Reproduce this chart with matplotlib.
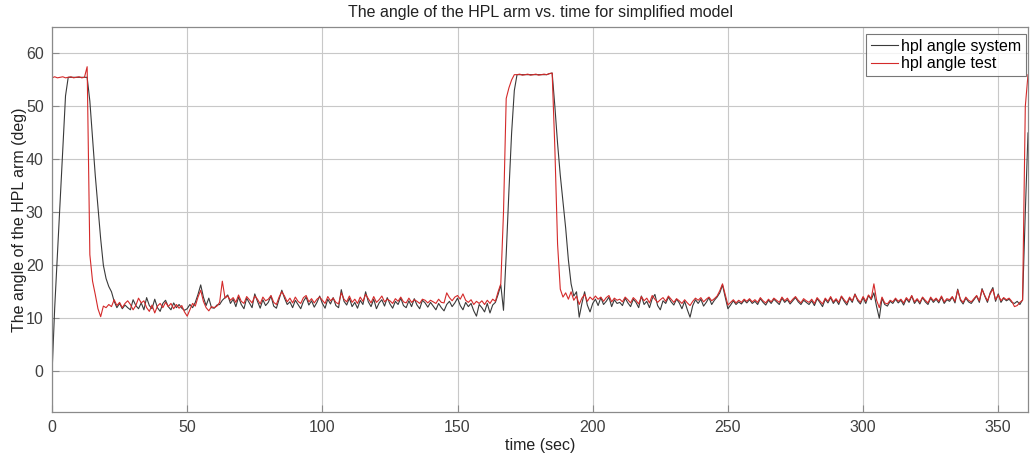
import numpy as np
import matplotlib
matplotlib.use("Agg")
import matplotlib.pyplot as plt

plt.rcParams['font.family'] = ['Liberation Sans', 'DejaVu Sans']

# sampling grid (seconds)
time_sec = np.arange(0, 362)

hpl_angle_system = [
    -0.5, 12, 22, 32, 42, 52, 55.5, 55.5, 55.5, 55.5,
    55.5, 55.5, 55.5, 55.5, 51, 44, 37, 31, 25, 20,
    17.5, 16, 15, 13.2, 12.0, 12.8, 11.8, 12.5, 12.0, 11.6,
    13.5, 12.4, 11.8, 12.9, 11.6, 13.9, 12.4, 11.8, 13.6, 12.0,
    11.3, 12.8, 13.4, 12.2, 11.6, 12.9, 12.0, 12.6, 11.9, 11.5,
    11.8, 12.6, 12.0, 13.0, 14.5, 16.3, 14.0, 12.4, 13.8, 12.0,
    11.9, 12.5, 12.6, 13.4, 13.9, 14.4, 12.8, 13.6, 12.2, 14.0,
    12.6, 11.8, 13.8, 12.9, 12.0, 14.6, 13.2, 11.9, 13.5, 12.4,
    13.0, 14.2, 12.3, 11.9, 13.6, 15.3, 13.8, 12.6, 13.1, 12.0,
    13.4, 12.6, 11.8, 13.2, 14.0, 12.5, 13.3, 12.1, 13.0, 14.2,
    12.8, 11.9, 13.6, 12.7, 13.9, 12.4, 12.0, 15.4, 13.2, 12.5,
    13.8, 12.2, 13.0, 11.9, 13.4, 12.6, 15.0, 13.1, 12.2, 13.6,
    11.8, 12.9, 13.5, 12.3, 13.9, 12.7, 11.9, 13.2, 12.6, 13.8,
    12.4, 12.0, 13.3, 12.2, 13.7, 12.5, 11.8, 13.4, 12.9, 12.1,
    13.0, 12.3, 11.6, 12.8, 12.0, 11.4, 12.6, 13.2, 12.2, 12.9,
    13.8, 12.4, 11.6, 13.0, 12.2, 12.8, 11.4, 10.4, 12.6, 12.0,
    11.2, 12.8, 11.0, 12.5, 13.0, 14.5, 16.3, 11.5, 22, 34,
    45, 53, 56, 56, 56, 56, 56, 56, 56, 56,
    56, 56, 56, 56, 56.2, 56.3, 50, 43, 37, 32,
    27, 21, 16.5, 14.2, 15.0, 10.2, 12.8, 15.0, 12.5, 11.2,
    12.8, 13.6, 12.4, 13.9, 12.6, 13.2, 14.0, 12.2, 13.5, 12.8,
    13.0, 12.4, 13.8, 12.9, 12.2, 13.6, 13.0, 12.0, 14.2, 12.6,
    13.2, 12.0, 13.7, 14.5, 12.4, 11.6, 13.3, 12.8, 14.0, 13.1,
    12.5, 13.6, 12.9, 11.8, 13.2, 11.6, 10.2, 12.4, 13.5, 12.8,
    13.6, 12.3, 13.0, 13.9, 12.6, 13.4, 14.0, 14.8, 16.3, 14.0,
    11.8, 12.5, 13.3, 12.6, 13.1, 12.7, 13.4, 12.9, 13.5, 12.8,
    13.2, 12.6, 13.7, 13.0, 12.5, 13.4, 12.8, 13.6, 13.1, 12.6,
    13.8, 13.0, 13.5, 12.7, 13.3, 13.9, 13.1, 12.6, 13.4, 13.0,
    12.6, 13.3, 12.4, 13.7, 13.0, 12.2, 13.6, 12.9, 13.9, 12.8,
    13.5, 12.6, 14.1, 13.2, 12.5, 13.8, 13.0, 14.6, 13.3, 12.7,
    13.9, 12.8, 14.3, 13.5, 14.8, 12.2, 10.0, 13.8, 12.6, 12.3,
    13.2, 12.8, 13.6, 12.9, 13.4, 12.5, 13.7, 13.0, 14.2, 12.8,
    13.5, 12.7, 13.9, 13.1, 12.6, 13.8, 13.0, 13.6, 12.9, 14.0,
    12.8, 13.5, 13.2, 14.0, 12.9, 15.5, 13.4, 12.7, 13.8, 13.1,
    12.8, 13.5, 14.2, 13.0, 15.6, 14.2, 13.0, 14.8, 15.8, 13.2,
    14.6, 13.0, 13.8, 13.3, 13.6, 13.0, 12.8, 13.2, 12.6, 13.5,
    30, 45,
]

hpl_angle_test = [
    55.4, 55.6, 55.4, 55.5, 55.6, 55.4, 55.5, 55.6, 55.4, 55.5,
    55.6, 55.4, 55.5, 57.5, 22, 17, 14.5, 11.8, 10.3, 12.3,
    12.0, 12.6, 12.2, 13.5, 12.4, 13.0, 12.0, 12.8, 13.3, 12.6,
    11.6, 12.4, 13.8, 12.9, 13.3, 12.0, 11.3, 12.5, 11.0, 12.3,
    12.8, 12.0, 13.0, 12.2, 12.8, 11.8, 12.6, 11.9, 12.4, 11.2,
    10.4, 11.6, 12.8, 12.3, 14.0, 15.3, 13.2, 12.0, 11.4, 12.2,
    12.0, 12.3, 13.0, 17.0, 13.8, 14.2, 13.4, 13.9, 13.0, 14.4,
    13.2, 12.8, 14.1, 13.5, 12.9, 14.2, 13.6, 12.7, 14.0, 13.3,
    13.6, 14.3, 13.0, 12.6, 14.0, 15.0, 14.2, 13.1, 13.8, 12.9,
    14.0, 13.2, 12.8, 13.9, 14.3, 13.1, 13.7, 12.9, 13.6, 14.0,
    13.4, 12.8, 14.1, 13.3, 13.8, 13.0, 12.7, 14.8, 13.6, 13.1,
    14.2, 13.0, 13.6, 12.8, 14.0, 13.2, 14.5, 13.7, 12.9, 14.1,
    13.0, 13.5, 14.2, 13.1, 13.6, 13.3, 12.8, 13.7, 13.2, 14.0,
    13.1, 12.9, 13.8, 13.0, 13.5, 13.2, 12.8, 13.6, 13.4, 12.9,
    13.4, 13.1, 12.8, 13.6, 13.0, 12.9, 14.8, 13.9, 13.3, 14.0,
    14.3, 13.6, 14.6, 13.4, 13.0, 13.5, 12.6, 13.2, 12.8, 13.3,
    12.6, 13.4, 12.8, 13.6, 13.2, 15.0, 16.5, 30, 51.5, 53.5,
    55, 56, 56, 56.1, 55.9, 56, 56.1, 55.9, 56, 56.1,
    55.9, 56, 56.1, 56, 56.2, 56.3, 42, 24, 15.5, 14.0,
    14.8, 13.6, 15.0, 13.4, 14.2, 12.6, 13.8, 14.5, 13.2, 14.0,
    13.5, 14.2, 13.6, 14.0, 13.2, 13.9, 14.3, 13.1, 13.8, 13.4,
    13.6, 13.1, 14.0, 13.5, 12.9, 13.9, 13.4, 12.7, 14.1, 13.3,
    13.8, 12.9, 14.3, 13.6, 13.0, 13.5, 13.9, 13.2, 14.2, 13.6,
    13.0, 13.7, 13.3, 12.8, 13.5, 12.9, 12.4, 13.2, 13.8, 13.4,
    13.9, 13.1, 13.6, 14.0, 13.3, 13.7, 14.2, 15.2, 16.5, 14.5,
    12.5, 13.0, 13.5, 12.9, 13.4, 13.0, 13.6, 13.2, 13.7, 13.1,
    13.5, 13.0, 13.9, 13.3, 12.9, 13.6, 13.1, 13.8, 13.4, 13.0,
    14.0, 13.3, 13.8, 13.0, 13.6, 14.1, 13.4, 12.9, 13.7, 13.3,
    13.0, 13.6, 12.8, 13.9, 13.3, 12.7, 13.8, 13.2, 14.1, 13.1,
    13.7, 13.0, 14.2, 13.5, 12.9, 14.0, 13.3, 14.5, 13.6, 13.0,
    14.1, 13.2, 14.4, 13.7, 16.5, 13.4, 12.0, 14.0, 12.9, 12.7,
    13.4, 13.1, 13.8, 13.2, 13.6, 12.9, 13.9, 13.3, 14.3, 13.1,
    13.7, 13.0, 14.0, 13.4, 12.9, 14.0, 13.3, 13.8, 13.2, 14.2,
    13.1, 13.7, 13.5, 14.1, 13.2, 15.3, 13.6, 13.0, 14.0, 13.4,
    13.1, 13.7, 14.3, 13.3, 15.4, 14.3, 13.3, 14.6, 15.5, 13.5,
    14.4, 13.3, 13.9, 13.5, 13.8, 13.2, 12.2, 12.4, 13.0, 13.4,
    50, 56,
]

x_ticks = [0, 50, 100, 150, 200, 250, 300, 350]
y_ticks = [0, 10, 20, 30, 40, 50, 60]

fig = plt.figure(figsize=(10.30, 4.61), dpi=100)
ax = fig.add_axes([52/1030, 1-412/461, (1028-52)/1030, (412-27)/461])

ax.plot(time_sec, hpl_angle_system, color='#3a3a3a', lw=0.8, label='hpl angle system')
ax.plot(time_sec, hpl_angle_test, color='#d42a2a', lw=0.8, label='hpl angle test')

ax.set_xlim(0, 361)
ax.set_ylim(-7.7, 65)
ax.set_xticks(x_ticks)
ax.set_yticks(y_ticks)
ax.grid(True, color='#c8c8c8', lw=0.8)
ax.set_axisbelow(True)
for s in ax.spines.values():
    s.set_color('#8a8a8a')
    s.set_linewidth(0.9)
ax.tick_params(direction='in', length=5, color='#8a8a8a', labelcolor='#404040',
               labelsize=11.5, pad=6)

ax.set_title('The angle of the HPL arm vs. time for simplified model',
             fontsize=11.5, color='#222222', pad=7)
ax.set_xlabel('time (sec)', fontsize=11.5, color='#222222', labelpad=2)
ax.set_ylabel('The angle of the HPL arm (deg)', fontsize=11.5, color='#222222', labelpad=-1)

leg = ax.legend(loc='upper right', bbox_to_anchor=(0.998, 0.982), fontsize=11.5,
                frameon=True, fancybox=False, borderpad=0.3, labelspacing=0.15,
                handlelength=1.7, handletextpad=0.2, borderaxespad=0.0)
leg.get_frame().set_edgecolor('#555555')
leg.get_frame().set_linewidth(0.8)

fig.savefig('out.png', dpi=100)
